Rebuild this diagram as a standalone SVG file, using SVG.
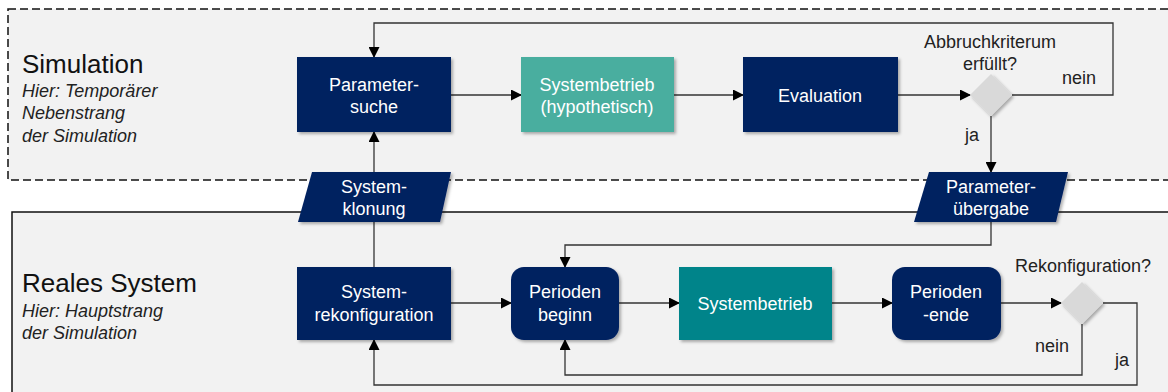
<svg xmlns="http://www.w3.org/2000/svg" width="1168" height="392" viewBox="0 0 1168 392">
  <defs>
    <filter id="shadow" x="-10%" y="-10%" width="130%" height="140%">
      <feDropShadow dx="2" dy="2" stdDeviation="1.6" flood-color="#000" flood-opacity="0.3"/>
    </filter>
    <marker id="arrow" markerWidth="11" markerHeight="11" refX="10" refY="5.5" orient="auto" markerUnits="userSpaceOnUse">
      <path d="M0,0 L11,5.5 L0,11 Z" fill="#000"/>
    </marker>
    <style>
      .lane-sim { fill: #f2f2f2; stroke: #111; stroke-width: 1.5; stroke-dasharray: 8 4; }
      .lane-real { fill: #f2f2f2; stroke: #111; stroke-width: 1.5; }
      .navy { fill: #002060; filter: url(#shadow); }
      .teal-light { fill: #4aae9f; filter: url(#shadow); }
      .teal { fill: #00848a; filter: url(#shadow); }
      .decision { fill: #d9d9d9; filter: url(#shadow); }
      .label { font-family: "Liberation Sans", Arial, sans-serif; font-size: 18px; fill: #fff; text-anchor: middle; }
      .note { font-family: "Liberation Sans", Arial, sans-serif; font-size: 18px; fill: #222; text-anchor: middle; }
      .title { font-family: "Liberation Sans", Arial, sans-serif; font-size: 26px; fill: #111; }
      .sub { font-family: "Liberation Sans", Arial, sans-serif; font-size: 18px; font-style: italic; fill: #222; }
      .conn { fill: none; stroke: #333; stroke-width: 1.3; }
      .conn-arrow { fill: none; stroke: #333; stroke-width: 1.3; marker-end: url(#arrow); }
    </style>
  </defs>

  <!-- swimlanes -->
  <g id="lane-simulation">
    <rect class="lane-sim" x="8" y="9" width="1180" height="171"/>
    <text class="title" x="22" y="73">Simulation</text>
    <text class="sub" x="22" y="97">Hier: Temporärer</text>
    <text class="sub" x="22" y="119">Nebenstrang</text>
    <text class="sub" x="22" y="142">der Simulation</text>
  </g>
  <g id="lane-real">
    <rect class="lane-real" x="12" y="212" width="1180" height="200"/>
    <text class="title" x="22" y="292">Reales System</text>
    <text class="sub" x="22" y="317">Hier: Hauptstrang</text>
    <text class="sub" x="22" y="339">der Simulation</text>
  </g>

  <!-- connectors -->
  <g id="connectors">
    <line class="conn-arrow" x1="451" y1="95" x2="521" y2="95"/>
    <line class="conn-arrow" x1="674" y1="95" x2="743" y2="95"/>
    <line class="conn-arrow" x1="898" y1="95" x2="970" y2="95"/>
    <polyline class="conn-arrow" points="1012,95 1113,95 1113,23 374,23 374,57"/>
    <line class="conn-arrow" x1="991" y1="116" x2="991" y2="172"/>
    <line class="conn" x1="374" y1="267" x2="374" y2="222"/>
    <line class="conn-arrow" x1="374" y1="172" x2="374" y2="132"/>
    <polyline class="conn-arrow" points="991,222 991,245 565,245 565,267"/>
    <line class="conn-arrow" x1="451" y1="303" x2="511" y2="303"/>
    <line class="conn-arrow" x1="619" y1="303" x2="679" y2="303"/>
    <line class="conn-arrow" x1="832" y1="303" x2="892" y2="303"/>
    <line class="conn-arrow" x1="1001" y1="303" x2="1061" y2="303"/>
    <polyline class="conn-arrow" points="1082,324 1082,375 565,375 565,340"/>
    <polyline class="conn-arrow" points="1103,303 1137,303 1137,385 374,385 374,340"/>
    <text class="note" x="1079" y="84">nein</text>
    <text class="note" x="972" y="141">ja</text>
    <text class="note" x="1052" y="352">nein</text>
    <text class="note" x="1122" y="366">ja</text>
  </g>

  <!-- simulation lane nodes -->
  <g id="parametersuche">
    <rect class="navy" x="297" y="57" width="154" height="75"/>
    <text class="label" x="374" y="91">Parameter-</text>
    <text class="label" x="374" y="113">suche</text>
  </g>
  <g id="systembetrieb-hypothetisch">
    <rect class="teal-light" x="521" y="57" width="153" height="75"/>
    <text class="label" x="597" y="91">Systembetrieb</text>
    <text class="label" x="597" y="113">(hypothetisch)</text>
  </g>
  <g id="evaluation">
    <rect class="navy" x="743" y="57" width="155" height="75"/>
    <text class="label" x="820" y="102">Evaluation</text>
  </g>
  <g id="abbruchkriterium">
    <polygon class="decision" points="991,74 1012,95 991,116 970,95"/>
    <text class="note" x="990" y="48">Abbruchkriterum</text>
    <text class="note" x="990" y="70">erfüllt?</text>
  </g>

  <!-- handover nodes between lanes -->
  <g id="systemklonung">
    <polygon class="navy" points="312,172 451,172 440,222 298,222"/>
    <text class="label" x="374" y="193">System-</text>
    <text class="label" x="374" y="215">klonung</text>
  </g>
  <g id="parameteruebergabe">
    <polygon class="navy" points="929,172 1068,172 1056,222 914,222"/>
    <text class="label" x="991" y="193">Parameter-</text>
    <text class="label" x="991" y="215">übergabe</text>
  </g>

  <!-- real system lane nodes -->
  <g id="systemrekonfiguration">
    <rect class="navy" x="297" y="267" width="154" height="73"/>
    <text class="label" x="374" y="298">System-</text>
    <text class="label" x="374" y="321">rekonfiguration</text>
  </g>
  <g id="periodenbeginn">
    <rect class="navy" x="511" y="267" width="108" height="73" rx="13"/>
    <text class="label" x="565" y="298">Perioden</text>
    <text class="label" x="565" y="321">beginn</text>
  </g>
  <g id="systembetrieb">
    <rect class="teal" x="679" y="267" width="153" height="73"/>
    <text class="label" x="755" y="310">Systembetrieb</text>
  </g>
  <g id="periodenende">
    <rect class="navy" x="892" y="267" width="109" height="73" rx="13"/>
    <text class="label" x="946" y="298">Perioden</text>
    <text class="label" x="946" y="321">-ende</text>
  </g>
  <g id="rekonfiguration">
    <polygon class="decision" points="1082,282 1103,303 1082,324 1061,303"/>
    <text class="note" x="1083" y="272">Rekonfiguration?</text>
  </g>
</svg>
